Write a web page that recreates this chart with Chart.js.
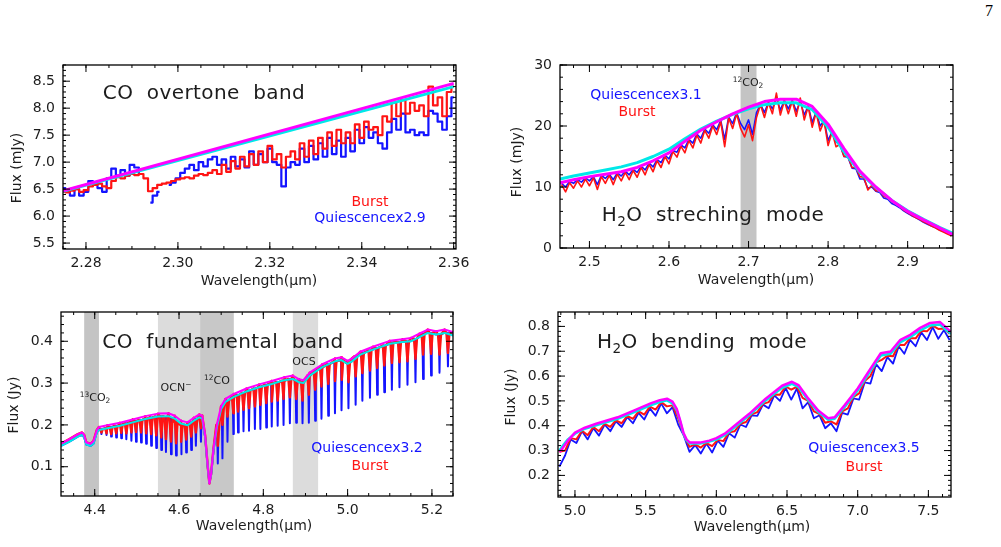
<!DOCTYPE html>
<html>
<head>
<meta charset="utf-8">
<script src="https://cdn.jsdelivr.net/npm/chart.js@4.4.1/dist/chart.umd.min.js"></script>
<style>
  html, body { margin: 0; padding: 0; background: #fff; }
  body { width: 1001px; height: 547px; position: relative; overflow: hidden; }
  canvas { position: absolute; }
  #pageNum { position: absolute; left: 985px; top: 3px; font: 16px "Liberation Serif", "DejaVu Serif", serif; line-height: 1; }
</style>
</head>
<body>
<div id="pageNum">7</div>
<canvas id="c1" width="480" height="250" style="left:0;top:55px"></canvas>
<canvas id="c2" width="480" height="250" style="left:500px;top:55px"></canvas>
<canvas id="c3" width="480" height="247" style="left:0;top:300px"></canvas>
<canvas id="c4" width="480" height="247" style="left:500px;top:300px"></canvas>
<script>
"use strict";

// ---- CO overtone band ----
var coOvWave = [2.275, 2.276, 2.277, 2.278, 2.279, 2.280, 2.281, 2.282, 2.283, 2.284,
  2.285, 2.286, 2.287, 2.288, 2.289, 2.290, 2.291, 2.292, 2.293, 2.294,
  2.295, 2.296, 2.297, 2.298, 2.299, 2.300, 2.301, 2.302, 2.303, 2.304,
  2.305, 2.306, 2.307, 2.308, 2.309, 2.310, 2.311, 2.312, 2.313, 2.314,
  2.315, 2.316, 2.317, 2.318, 2.319, 2.320, 2.321, 2.322, 2.323, 2.324,
  2.325, 2.326, 2.327, 2.328, 2.329, 2.330, 2.331, 2.332, 2.333, 2.334,
  2.335, 2.336, 2.337, 2.338, 2.339, 2.340, 2.341, 2.342, 2.343, 2.344,
  2.345, 2.346, 2.347, 2.348, 2.349, 2.350, 2.351, 2.352, 2.353, 2.354,
  2.355, 2.356, 2.357, 2.358, 2.359, 2.360];
var coOvBurst = [6.45, 6.44, 6.47, 6.50, 6.45, 6.48, 6.55, 6.58, 6.60, 6.55,
  6.52, 6.65, 6.72, 6.70, 6.75, 6.78, 6.76, 6.78, 6.70, 6.46,
  6.52, 6.58, 6.60, 6.62, 6.65, 6.68, 6.70, 6.72, 6.70, 6.75,
  6.78, 6.76, 6.80, 6.85, 6.78, 6.95, 6.82, 7.02, 6.88, 7.10,
  6.92, 7.15, 6.95, 7.20, 7.00, 7.30, 7.05, 7.15, 6.90, 7.10,
  7.20, 7.05, 7.35, 7.10, 7.40, 7.15, 7.45, 7.25, 7.55, 7.30,
  7.60, 7.35, 7.55, 7.35, 7.70, 7.45, 7.75, 7.60, 7.65, 7.50,
  7.85, 7.75, 8.10, 7.85, 8.15, 7.90, 8.10, 7.95, 8.05, 7.85,
  8.40, 8.05, 8.20, 7.85, 8.30, 8.40];
var coOvQuies = [6.52, 6.45, 6.38, 6.50, 6.38, 6.45, 6.65, 6.60, 6.52, 6.45,
  6.70, 6.88, 6.75, 6.85, 6.75, 6.95, 6.90, 6.78, null, 6.25,
  6.38, 6.45, null, 6.58, 6.62, 6.70, 6.80, 6.88, 6.95, 6.85,
  7.00, 6.92, 7.05, 7.10, 6.95, 7.05, 6.88, 7.10, 6.92, 7.05,
  6.90, 7.20, 6.95, 7.15, 7.00, 7.25, 7.00, 6.95, 6.55, 6.90,
  7.00, 6.95, 7.25, 7.00, 7.30, 7.05, 7.35, 7.10, 7.45, 7.15,
  7.40, 7.10, 7.45, 7.20, 7.60, 7.35, 7.65, 7.45, 7.55, 7.35,
  7.25, 7.55, 7.80, 7.60, 7.90, 7.55, 7.60, 7.50, 7.55, 7.50,
  7.95, 7.90, 7.75, 7.60, 7.85, 8.20];
var coOvContWave = [2.275, 2.360];
var coOvMagenta = [6.47, 8.46];
var coOvCyan = [6.46, 8.40];
var coOvXTicks = [2.28, 2.30, 2.32, 2.34, 2.36];
var coOvYTicks = [5.5, 6.0, 6.5, 7.0, 7.5, 8.0, 8.5];

// ---- H2O stretching mode ----
var h2oSWave = [2.465, 2.470, 2.475, 2.480, 2.485, 2.490, 2.495, 2.500, 2.505, 2.510,
  2.515, 2.520, 2.525, 2.530, 2.535, 2.540, 2.545, 2.550, 2.555, 2.560,
  2.565, 2.570, 2.575, 2.580, 2.585, 2.590, 2.595, 2.600, 2.605, 2.610,
  2.615, 2.620, 2.625, 2.630, 2.635, 2.640, 2.645, 2.650, 2.655, 2.660,
  2.665, 2.670, 2.675, 2.680, 2.685, 2.690, 2.695, 2.700, 2.705, 2.710,
  2.715, 2.720, 2.725, 2.730, 2.735, 2.740, 2.745, 2.750, 2.755, 2.760,
  2.765, 2.770, 2.775, 2.780, 2.785, 2.790, 2.795, 2.800, 2.805, 2.810,
  2.815, 2.820, 2.825, 2.830, 2.835, 2.840, 2.845, 2.850, 2.855, 2.860,
  2.865, 2.870, 2.875, 2.880, 2.885, 2.890, 2.895, 2.900, 2.905, 2.910,
  2.915, 2.920, 2.925, 2.930, 2.935, 2.940, 2.945, 2.950, 2.955];
var h2oSBurst = [10.4, 9.2, 10.7, 9.8, 11.0, 10.0, 11.3, 10.2, 11.5, 9.6,
  11.7, 10.6, 11.9, 10.4, 12.1, 11.0, 12.4, 11.2, 12.7, 11.6,
  13.2, 12.0, 13.7, 12.5, 14.3, 13.2, 15.0, 13.8, 15.8, 14.9,
  16.7, 15.6, 17.6, 16.4, 18.5, 17.2, 19.3, 18.0, 20.0, 18.6,
  20.7, 16.6, 21.3, 19.6, 22.0, 19.6, 18.2, 20.2, 17.6, 21.4,
  23.5, 21.4, 23.8, 22.0, 25.4, 21.8, 24.1, 22.0, 24.1, 21.6,
  24.6, 21.0, 23.2, 19.8, 22.2, 19.2, 20.8, 16.8, 19.0, 16.6,
  17.0, 15.0, 15.1, 13.2, 13.2, 11.7, 11.6, 9.5, 10.3, 9.4,
  9.3, 8.5, 8.2, 7.6, 7.2, 6.8, 6.2, 5.8, 5.4, 5.0,
  4.7, 4.3, 4.0, 3.6, 3.3, 2.9, 2.6, 2.3, 2.0];
var h2oSQuies = [10.6, 10.0, 10.9, 10.6, 11.2, 10.8, 11.5, 11.0, 11.7, 10.4,
  11.9, 11.4, 12.1, 11.2, 12.3, 11.8, 12.6, 12.0, 12.9, 12.4,
  13.4, 12.8, 13.9, 13.3, 14.5, 14.0, 15.2, 14.6, 16.0, 15.7,
  16.9, 16.4, 17.8, 17.2, 18.7, 18.0, 19.5, 18.8, 20.2, 19.4,
  20.9, 17.8, 21.5, 20.4, 22.2, 20.4, 19.4, 21.0, 18.6, 22.2,
  23.6, 22.2, 23.9, 22.8, 24.6, 22.6, 24.2, 22.8, 24.2, 22.4,
  24.0, 21.8, 23.3, 20.6, 22.3, 20.0, 20.9, 17.6, 19.1, 17.4,
  16.9, 15.0, 14.9, 13.1, 13.0, 11.3, 11.3, 9.8, 10.0, 9.3,
  9.1, 8.2, 8.0, 7.3, 7.0, 6.6, 6.1, 5.7, 5.3, 5.0,
  4.6, 4.2, 3.9, 3.6, 3.3, 3.0, 2.7, 2.4, 2.1];
var h2oSContWave = [2.463, 2.48, 2.50, 2.52, 2.54, 2.56, 2.58, 2.60, 2.62, 2.64,
  2.66, 2.68, 2.70, 2.72, 2.74, 2.76, 2.78, 2.80, 2.82, 2.84,
  2.86, 2.88, 2.90, 2.92, 2.94, 2.957];
var h2oSMagenta = [10.7, 11.2, 11.7, 12.1, 12.5, 13.2, 14.3, 15.6, 17.5, 19.3,
  20.7, 22.0, 23.1, 24.0, 24.4, 24.4, 23.2, 20.3, 16.3, 12.6,
  10.0, 7.8, 6.0, 4.6, 3.3, 2.2];
var h2oSCyan = [11.3, 11.8, 12.3, 12.8, 13.3, 14.0, 15.0, 16.2, 17.9, 19.5,
  20.8, 21.9, 22.8, 23.5, 23.8, 23.8, 22.7, 19.8, 15.8, 12.4,
  9.9, 7.8, 6.1, 4.7, 3.4, 2.4];
var h2oSXTicks = [2.5, 2.6, 2.7, 2.8, 2.9];
var h2oSYTicks = [0, 10, 20, 30];

// ---- CO fundamental band ----
var coFContWave = [4.32, 4.34, 4.36, 4.37, 4.375, 4.38, 4.39, 4.397, 4.405, 4.41,
  4.43, 4.46, 4.49, 4.52, 4.55, 4.575, 4.59, 4.605, 4.62, 4.635,
  4.648, 4.655, 4.662, 4.668, 4.672, 4.676, 4.682, 4.69, 4.70, 4.71,
  4.73, 4.76, 4.79, 4.82, 4.85, 4.87, 4.885, 4.895, 4.91, 4.94,
  4.97, 4.985, 5.0, 5.01, 5.03, 5.06, 5.1, 5.13, 5.15, 5.17,
  5.19, 5.21, 5.23, 5.25];
var coFCyan = [0.150, 0.160, 0.172, 0.176, 0.170, 0.153, 0.150, 0.155, 0.182, 0.188,
  0.192, 0.198, 0.206, 0.214, 0.220, 0.221, 0.215, 0.203, 0.199, 0.210,
  0.218, 0.215, 0.170, 0.100, 0.062, 0.080, 0.140, 0.195, 0.238, 0.255,
  0.267, 0.280, 0.290, 0.298, 0.307, 0.310, 0.302, 0.300, 0.318, 0.338,
  0.352, 0.355, 0.346, 0.352, 0.368, 0.380, 0.394, 0.398, 0.400, 0.410,
  0.420, 0.416, 0.420, 0.414];
var coFMagenta = [0.155, 0.166, 0.178, 0.182, 0.176, 0.158, 0.155, 0.161, 0.188, 0.195,
  0.199, 0.205, 0.213, 0.221, 0.227, 0.228, 0.222, 0.210, 0.206, 0.217,
  0.225, 0.222, 0.175, 0.102, 0.060, 0.082, 0.145, 0.202, 0.245, 0.262,
  0.274, 0.287, 0.297, 0.305, 0.314, 0.318, 0.309, 0.307, 0.325, 0.345,
  0.359, 0.362, 0.353, 0.359, 0.375, 0.387, 0.401, 0.405, 0.408, 0.418,
  0.428, 0.424, 0.428, 0.422];
// gas-phase CO lines: centre, level beside the line, trough in each spectrum
var coLineWave = [4.416, 4.428, 4.439, 4.451, 4.463, 4.475, 4.487, 4.498, 4.510, 4.522,
  4.534, 4.546, 4.558, 4.569, 4.581, 4.593, 4.605, 4.617, 4.629, 4.640, 4.652,
  4.692, 4.703, 4.715, 4.729, 4.740, 4.753, 4.766, 4.780, 4.793, 4.807,
  4.820, 4.834, 4.848, 4.863, 4.878, 4.893, 4.908, 4.923, 4.938, 4.954,
  4.970, 4.986, 5.002, 5.019, 5.035, 5.053, 5.070, 5.087, 5.105, 5.123,
  5.142, 5.161, 5.179, 5.198, 5.218, 5.238];
var coLineTop = [0.190, 0.192, 0.195, 0.198, 0.201, 0.204, 0.207, 0.210, 0.212, 0.215,
  0.218, 0.220, 0.221, 0.219, 0.214, 0.207, 0.201, 0.200, 0.206, 0.214, 0.218,
  0.200, 0.244, 0.258, 0.268, 0.272, 0.277, 0.282, 0.287, 0.292, 0.296,
  0.300, 0.302, 0.306, 0.310, 0.306, 0.302, 0.318, 0.330, 0.338, 0.345,
  0.352, 0.355, 0.348, 0.364, 0.372, 0.378, 0.384, 0.390, 0.397, 0.398,
  0.400, 0.406, 0.418, 0.420, 0.416, 0.419];
var coLineQuies = [0.178, 0.176, 0.172, 0.170, 0.168, 0.166, 0.162, 0.160, 0.158, 0.155,
  0.150, 0.145, 0.140, 0.135, 0.130, 0.127, 0.130, 0.134, 0.140, 0.150, 0.160,
  0.108, 0.120, 0.160, 0.178, 0.182, 0.185, 0.186, 0.190, 0.190, 0.194,
  0.196, 0.198, 0.200, 0.204, 0.205, 0.204, 0.205, 0.210, 0.215, 0.222,
  0.228, 0.235, 0.240, 0.248, 0.258, 0.265, 0.272, 0.278, 0.284, 0.290,
  0.296, 0.302, 0.310, 0.318, 0.325, 0.340];
var coLineBurst = [0.182, 0.180, 0.178, 0.180, 0.181, 0.180, 0.182, 0.183, 0.182, 0.180,
  0.178, 0.175, 0.170, 0.166, 0.160, 0.156, 0.160, 0.165, 0.172, 0.182, 0.192,
  0.150, 0.200, 0.220, 0.228, 0.232, 0.236, 0.240, 0.244, 0.248, 0.252,
  0.256, 0.258, 0.262, 0.266, 0.262, 0.258, 0.272, 0.284, 0.292, 0.298,
  0.305, 0.308, 0.302, 0.316, 0.324, 0.330, 0.336, 0.342, 0.348, 0.350,
  0.352, 0.358, 0.368, 0.370, 0.368, 0.372];
var coFBandFrom = [4.375, 4.55, 4.65, 4.87];
var coFBandTo = [4.41, 4.65, 4.73, 4.93];
var coFXTicks = [4.4, 4.6, 4.8, 5.0, 5.2];
var coFYTicks = [0.1, 0.2, 0.3, 0.4];

// ---- H2O bending mode ----
var h2oBWave = [4.89, 4.93, 4.97, 5.01, 5.05, 5.09, 5.13, 5.17, 5.21, 5.25,
  5.29, 5.33, 5.37, 5.41, 5.45, 5.49, 5.53, 5.57, 5.61, 5.65,
  5.69, 5.73, 5.77, 5.81, 5.85, 5.89, 5.93, 5.97, 6.01, 6.05,
  6.09, 6.13, 6.17, 6.21, 6.25, 6.29, 6.33, 6.37, 6.41, 6.45,
  6.49, 6.53, 6.57, 6.61, 6.65, 6.69, 6.73, 6.77, 6.81, 6.85,
  6.89, 6.93, 6.97, 7.01, 7.05, 7.09, 7.13, 7.17, 7.21, 7.25,
  7.29, 7.33, 7.37, 7.41, 7.45, 7.49, 7.53, 7.57, 7.61, 7.65];
var h2oBBurst = [0.295, 0.300, 0.350, 0.345, 0.380, 0.362, 0.395, 0.378, 0.408, 0.395,
  0.422, 0.410, 0.440, 0.428, 0.458, 0.445, 0.477, 0.465, 0.495, 0.478,
  0.482, 0.430, 0.362, 0.315, 0.325, 0.312, 0.330, 0.318, 0.343, 0.338,
  0.374, 0.378, 0.408, 0.415, 0.446, 0.455, 0.488, 0.495, 0.526, 0.525,
  0.558, 0.545, 0.557, 0.512, 0.500, 0.458, 0.447, 0.412, 0.418, 0.405,
  0.458, 0.470, 0.516, 0.530, 0.580, 0.600, 0.655, 0.665, 0.682, 0.680,
  0.726, 0.725, 0.752, 0.752, 0.782, 0.780, 0.803, 0.790, 0.792, 0.770];
var h2oBQuies = [0.235, 0.280, 0.345, 0.330, 0.378, 0.345, 0.390, 0.360, 0.405, 0.378,
  0.418, 0.395, 0.435, 0.410, 0.452, 0.425, 0.470, 0.440, 0.490, 0.450,
  0.475, 0.405, 0.360, 0.295, 0.322, 0.288, 0.328, 0.292, 0.340, 0.315,
  0.370, 0.352, 0.405, 0.395, 0.442, 0.440, 0.485, 0.470, 0.522, 0.500,
  0.552, 0.505, 0.550, 0.470, 0.495, 0.430, 0.442, 0.390, 0.410, 0.378,
  0.452, 0.445, 0.510, 0.505, 0.575, 0.570, 0.648, 0.620, 0.676, 0.650,
  0.720, 0.690, 0.746, 0.720, 0.776, 0.745, 0.797, 0.750, 0.785, 0.745];
var h2oBContWave = [4.89, 4.907, 4.95, 5.0, 5.07, 5.15, 5.302, 5.42, 5.535, 5.6,
  5.651, 5.69, 5.72, 5.745, 5.767, 5.79, 5.814, 5.884, 5.95, 6.0,
  6.06, 6.116, 6.233, 6.349, 6.465, 6.535, 6.581, 6.651, 6.721, 6.791,
  6.837, 6.907, 7.0, 7.093, 7.163, 7.233, 7.302, 7.372, 7.442, 7.512,
  7.581, 7.628, 7.66];
var h2oBCyan = [0.300, 0.314, 0.345, 0.368, 0.388, 0.402, 0.428, 0.455, 0.482, 0.495,
  0.502, 0.490, 0.462, 0.415, 0.368, 0.340, 0.328, 0.328, 0.336, 0.344,
  0.362, 0.388, 0.442, 0.502, 0.553, 0.569, 0.556, 0.502, 0.455, 0.424,
  0.428, 0.475, 0.542, 0.623, 0.683, 0.690, 0.737, 0.757, 0.784, 0.804,
  0.808, 0.784, 0.770];
var h2oBMagenta = [0.295, 0.305, 0.340, 0.372, 0.392, 0.408, 0.434, 0.462, 0.490, 0.503,
  0.509, 0.497, 0.468, 0.420, 0.372, 0.344, 0.332, 0.332, 0.340, 0.350,
  0.368, 0.394, 0.448, 0.509, 0.561, 0.577, 0.564, 0.509, 0.461, 0.430,
  0.434, 0.482, 0.550, 0.632, 0.692, 0.699, 0.746, 0.766, 0.794, 0.814,
  0.818, 0.794, 0.778];
var h2oBXTicks = [5.0, 5.5, 6.0, 6.5, 7.0, 7.5];
var h2oBYTicks = [0.2, 0.3, 0.4, 0.5, 0.6, 0.7, 0.8];

var FONT = '"DejaVu Sans", "Liberation Sans", sans-serif';
var RED = "#ff1414";
var BLUE = "#1414ff";
var CYAN = "#00e8e8";
var MAGENTA = "#ff00ff";
var INK = "#1c1c1c";

function pts(xs, ys) {
  return xs.map(function (x, i) {
    return { x: x, y: ys[i] };
  });
}

// continuum plus narrow V-shaped absorption lines
function withLines(contX, contY, lineX, lineTop, lineLow, half) {
  var p = pts(contX, contY);
  lineX.forEach(function (w, i) {
    p.push({ x: w - half, y: lineTop[i] }, { x: w, y: lineLow[i] }, { x: w + half, y: lineTop[i] });
  });
  return p.sort(function (a, b) {
    return a.x - b.x;
  });
}

function line(data, color, width, stepped) {
  return {
    data: data,
    borderColor: color,
    borderWidth: width,
    borderJoinStyle: "round",
    pointRadius: 0,
    tension: 0,
    stepped: stepped || false,
    spanGaps: false,
  };
}

// text: parts are [string, "sup"|"sub"|undefined]
function drawText(ctx, t) {
  ctx.save();
  ctx.translate(t.x, t.y);
  if (t.rot) ctx.rotate(t.rot);
  ctx.fillStyle = t.color || INK;
  ctx.textBaseline = "middle";
  ctx.letterSpacing = (t.spacing || 0) + "px";
  var size = t.size || 14;
  var parts = typeof t.text === "string" ? [[t.text]] : t.text;
  var total = 0;
  parts.forEach(function (p) {
    ctx.font = (p[1] ? size * 0.68 : size) + "px " + FONT;
    total += ctx.measureText(p[0]).width;
  });
  var cx = -total / 2;
  parts.forEach(function (p) {
    ctx.font = (p[1] ? size * 0.68 : size) + "px " + FONT;
    var dy = p[1] === "sub" ? size * 0.32 : p[1] === "sup" ? -size * 0.3 : 0;
    ctx.fillText(p[0], cx, dy);
    cx += ctx.measureText(p[0]).width;
  });
  ctx.restore();
}

function minorMarks(ctx, scale, step, len, a, horizontal) {
  var first = Math.ceil(scale.min / step - 1e-6);
  for (var i = first; i * step <= scale.max + 1e-9; i++) {
    var p = scale.getPixelForValue(i * step);
    if (horizontal) {
      ctx.moveTo(p, a.bottom); ctx.lineTo(p, a.bottom - len);
      ctx.moveTo(p, a.top); ctx.lineTo(p, a.top + len);
    } else {
      ctx.moveTo(a.left, p); ctx.lineTo(a.left + len, p);
      ctx.moveTo(a.right, p); ctx.lineTo(a.right - len, p);
    }
  }
}

var idlPlugin = {
  id: "idl",
  beforeDatasetsDraw: function (chart, args, o) {
    var a = chart.chartArea, x = chart.scales.x, ctx = chart.ctx;
    ctx.save();
    (o.bands || []).forEach(function (b) {
      var x0 = x.getPixelForValue(b.from), x1 = x.getPixelForValue(b.to);
      ctx.fillStyle = b.color;
      ctx.fillRect(x0, a.top, x1 - x0, a.bottom - a.top);
    });
    ctx.restore();
  },
  afterDraw: function (chart, args, o) {
    var a = chart.chartArea, ctx = chart.ctx;
    var x = chart.scales.x, y = chart.scales.y;
    ctx.save();
    ctx.strokeStyle = "#000";
    ctx.lineWidth = 1.3;
    ctx.strokeRect(a.left, a.top, a.right - a.left, a.bottom - a.top);
    ctx.beginPath();
    ctx.lineWidth = 1;
    minorMarks(ctx, x, o.xMinor, 3, a, true);
    minorMarks(ctx, y, o.yMinor, 3, a, false);
    x.ticks.forEach(function (t) {
      var p = x.getPixelForValue(t.value);
      ctx.moveTo(p, a.bottom); ctx.lineTo(p, a.bottom - 7);
      ctx.moveTo(p, a.top); ctx.lineTo(p, a.top + 7);
    });
    y.ticks.forEach(function (t) {
      var p = y.getPixelForValue(t.value);
      ctx.moveTo(a.left, p); ctx.lineTo(a.left + 7, p);
      ctx.moveTo(a.right, p); ctx.lineTo(a.right - 7, p);
    });
    ctx.stroke();
    ctx.restore();
    var off = o.offset;
    (o.texts || []).forEach(function (t) {
      drawText(ctx, Object.assign({}, t, { x: t.x - off[0], y: t.y - off[1] }));
    });
  },
};

function makeChart(id, c) {
  return new Chart(document.getElementById(id), {
    type: "line",
    data: { datasets: c.datasets },
    options: {
      responsive: false,
      animation: false,
      events: [],
      layout: { padding: { left: 0, top: c.top, right: c.right, bottom: 0 } },
      plugins: {
        legend: { display: false },
        tooltip: { enabled: false },
        idl: c.decor,
      },
      scales: {
        x: {
          type: "linear",
          min: c.xMin,
          max: c.xMax,
          grid: { display: false, drawTicks: false },
          border: { display: false },
          afterBuildTicks: function (s) {
            s.ticks = c.xTicks.map(function (v) { return { value: v }; });
          },
          afterFit: function (s) {
            s.height = c.xHeight;
            s.paddingLeft = 0; s.paddingRight = 0;
          },
          ticks: {
            padding: 6,
            autoSkip: false,
            maxRotation: 0,
            color: INK,
            font: { family: FONT, size: 14 },
            callback: function (v) { return Number(v).toFixed(c.xDigits); },
          },
        },
        y: {
          min: c.yMin,
          max: c.yMax,
          grid: { display: false, drawTicks: false },
          border: { display: false },
          afterBuildTicks: function (s) {
            s.ticks = c.yTicks.map(function (v) { return { value: v }; });
          },
          afterFit: function (s) {
            s.width = c.yWidth;
            s.paddingTop = 0; s.paddingBottom = 0;
          },
          ticks: {
            padding: 8,
            autoSkip: false,
            color: INK,
            font: { family: FONT, size: 14 },
            callback: function (v) { return Number(v).toFixed(c.yDigits); },
          },
        },
      },
    },
    plugins: [idlPlugin],
  });
}

makeChart("c1", {
  datasets: [
    line(pts(coOvContWave, coOvMagenta), MAGENTA, 3),
    line(pts(coOvContWave, coOvCyan), CYAN, 3),
    line(pts(coOvWave, coOvBurst), RED, 2.2, "middle"),
    line(pts(coOvWave, coOvQuies), BLUE, 2.2, "middle"),
  ],
  xMin: 2.275, xMax: 2.3605, yMin: 5.39, yMax: 8.8,
  xTicks: coOvXTicks, yTicks: coOvYTicks, xDigits: 2, yDigits: 1,
  top: 10, right: 24, yWidth: 63, xHeight: 56,
  decor: {
    offset: [0, 55], xMinor: 0.005, yMinor: 0.1,
    texts: [
      { text: "CO  overtone  band", x: 204, y: 94, size: 20, spacing: 0.4 },
      { text: "Burst", x: 370, y: 202, color: RED },
      { text: "Quiescencex2.9", x: 370, y: 218, color: BLUE },
      { text: "Wavelength(\u03bcm)", x: 259, y: 281 },
      { text: "Flux (mJy)", x: 17, y: 168, rot: -Math.PI / 2 },
    ],
  },
});

makeChart("c2", {
  datasets: [
    line(pts(h2oSContWave, h2oSMagenta), MAGENTA, 3),
    line(pts(h2oSContWave, h2oSCyan), CYAN, 3),
    line(pts(h2oSWave, h2oSBurst), RED, 1.6),
    line(pts(h2oSWave, h2oSQuies), BLUE, 1.6),
  ],
  xMin: 2.463, xMax: 2.957, yMin: 0, yMax: 30,
  xTicks: h2oSXTicks, yTicks: h2oSYTicks, xDigits: 1, yDigits: 0,
  top: 10, right: 27, yWidth: 60, xHeight: 57,
  decor: {
    offset: [500, 55], xMinor: 0.02, yMinor: 2,
    bands: [{ from: 2.69, to: 2.71, color: "#c4c4c4" }],
    texts: [
      { text: "Quiescencex3.1", x: 646, y: 95, color: BLUE },
      { text: "Burst", x: 637, y: 112, color: RED },
      { text: [["12", "sup"], ["CO"], ["2", "sub"]], x: 748, y: 83, size: 11 },
      { text: [["H"], ["2", "sub"], ["O  streching  mode"]], x: 713, y: 216, size: 20, spacing: 0.4 },
      { text: "Wavelength(\u03bcm)", x: 756, y: 280 },
      { text: "Flux (mJy)", x: 517, y: 162, rot: -Math.PI / 2 },
    ],
  },
});

var coFBandColor = ["#c4c4c4", "#dcdcdc", "#c8c8c8", "#dcdcdc"];
makeChart("c3", {
  datasets: [
    line(pts(coFContWave, coFMagenta), MAGENTA, 2),
    line(pts(coFContWave, coFCyan), CYAN, 2),
    line(withLines(coFContWave, coFMagenta, coLineWave, coLineTop, coLineBurst, 0.0035), RED, 2.4),
    line(withLines(coFContWave, coFCyan, coLineWave, coLineTop, coLineQuies, 0.0016), BLUE, 2),
  ],
  xMin: 4.32, xMax: 5.25, yMin: 0.03, yMax: 0.47,
  xTicks: coFXTicks, yTicks: coFYTicks, xDigits: 1, yDigits: 1,
  top: 12, right: 27, yWidth: 61, xHeight: 51,
  decor: {
    offset: [0, 300], xMinor: 0.05, yMinor: 0.02,
    bands: coFBandFrom.map(function (f, i) {
      return { from: f, to: coFBandTo[i], color: coFBandColor[i] };
    }),
    texts: [
      { text: "CO  fundamental  band", x: 223, y: 343, size: 20, spacing: 0.4 },
      { text: [["13", "sup"], ["CO"], ["2", "sub"]], x: 95, y: 398, size: 11 },
      { text: [["OCN"], ["\u2212", "sup"]], x: 176, y: 388, size: 11 },
      { text: [["12", "sup"], ["CO"]], x: 217, y: 381, size: 11 },
      { text: "OCS", x: 304, y: 362, size: 11 },
      { text: "Quiescencex3.2", x: 367, y: 448, color: BLUE },
      { text: "Burst", x: 370, y: 466, color: RED },
      { text: "Wavelength(\u03bcm)", x: 254, y: 526 },
      { text: "Flux (Jy)", x: 14, y: 405, rot: -Math.PI / 2 },
    ],
  },
});

makeChart("c4", {
  datasets: [
    line(pts(h2oBContWave, h2oBMagenta), MAGENTA, 2.5),
    line(pts(h2oBContWave, h2oBCyan), CYAN, 2.5),
    line(pts(h2oBWave, h2oBBurst), RED, 2),
    line(pts(h2oBWave, h2oBQuies), BLUE, 1.8),
  ],
  xMin: 4.88, xMax: 7.66, yMin: 0.113, yMax: 0.858,
  xTicks: h2oBXTicks, yTicks: h2oBYTicks, xDigits: 1, yDigits: 1,
  top: 12, right: 29, yWidth: 58, xHeight: 50,
  decor: {
    offset: [500, 300], xMinor: 0.1, yMinor: 0.02,
    texts: [
      { text: [["H"], ["2", "sub"], ["O  bending  mode"]], x: 702, y: 343, size: 20, spacing: 0.4 },
      { text: "Quiescencex3.5", x: 864, y: 448, color: BLUE },
      { text: "Burst", x: 864, y: 467, color: RED },
      { text: "Wavelength(\u03bcm)", x: 752, y: 527 },
      { text: "Flux (Jy)", x: 511, y: 397, rot: -Math.PI / 2 },
    ],
  },
});
</script>
</body>
</html>
